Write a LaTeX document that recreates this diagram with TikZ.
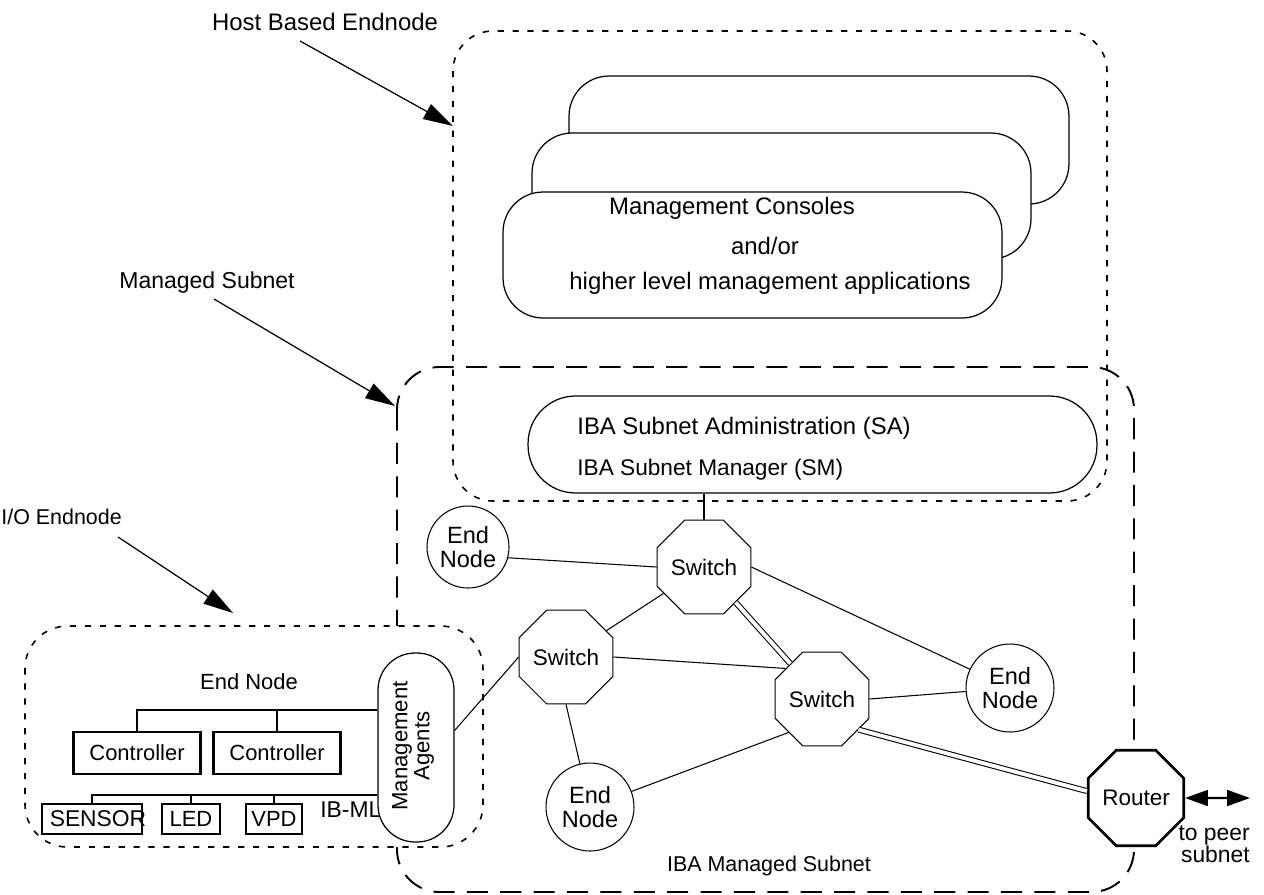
\documentclass[tikz,border=0pt]{standalone}
\usepackage{fontspec}
\setmainfont{Liberation Sans}
\usetikzlibrary{arrows.meta,shapes.geometric,calc}
\begin{document}
\begin{tikzpicture}[x=0.02cm,y=-0.02cm,
  lbl/.style={inner sep=0pt, font=\fontsize{13.6}{16}\selectfont},
  shortdash/.style={dash pattern=on 3.5pt off 5pt, line width=0.9pt},
  longdash/.style={dash pattern=on 12pt off 7pt, line width=1.1pt},
  console/.style={draw, fill=white, rounded corners=0.8cm, line width=0.7pt, inner sep=0pt},
  oct/.style={draw, fill=white, regular polygon, regular polygon sides=8, minimum size=1.73cm, inner sep=0pt, line width=0.6pt, font=\fontsize{12.8}{14}\selectfont},
  endn/.style={draw, fill=white, circle, inner sep=0pt, align=center, line width=0.6pt, font=\fontsize{13.4}{14}\selectfont},
  hwbox/.style={draw, fill=white, line width=1.2pt, inner sep=0pt, font=\fontsize{12.5}{14}\selectfont},
  tree/.style={line width=1.2pt},
  link/.style={line width=0.6pt},
  dlink/.style={double, double distance=2.2pt, line width=0.6pt},
  pointer/.style={line width=0.7pt, -{Triangle[length=17pt,width=9.5pt]}},
  peerarrow/.style={line width=1.2pt, {Triangle[length=13pt,width=9pt]}-{Triangle[length=13pt,width=9pt]}},
]
\useasboundingbox (0,0) rectangle (1264,894);

% big grouping boxes
\draw[shortdash, rounded corners=0.8cm] (453,31) rectangle (1107,501);
\draw[longdash, rounded corners=0.85cm] (397,367) rectangle (1134,892);

% management consoles stack
\node[console, minimum width=10cm, minimum height=2.56cm] (con3) at (819,140) {};
\node[console, minimum width=9.98cm, minimum height=2.52cm] (con2) at (781.5,196) {};
\node[console, minimum width=9.98cm, minimum height=2.52cm] (con1) at (752.5,255) {};
\node[lbl] (mc1) at (732,208) {Management Consoles};
\node[lbl] (mc2) at (765,246) {and/or};
\node[lbl] (mc3) at (770,283) {higher level management applications};

% SA / SM pill
\node[draw, fill=white, rounded corners=0.95cm, minimum width=11.38cm, minimum height=1.94cm, line width=0.7pt] (sa) at (812.5,444.5) {};
\node[lbl, anchor=west] (satxt) at (577,428) {IBA Subnet Administration (SA)};
\node[lbl, anchor=west, font=\fontsize{12.9}{15}\selectfont] (smtxt) at (577,470) {IBA Subnet Manager (SM)};

% I/O endnode box
\draw[shortdash, fill=white, rounded corners=0.85cm] (25,626) rectangle (483,847);

\node[lbl, font=\fontsize{12.5}{14}\selectfont] (ioen) at (249,682) {End Node};
\node[hwbox, minimum width=2.54cm, minimum height=0.84cm] (ctl1) at (137,753) {Controller};
\node[hwbox, minimum width=2.54cm, minimum height=0.84cm] (ctl2) at (277,753) {Controller};
\node[hwbox, minimum width=2.0cm, minimum height=0.6cm] (sensor) at (92,819) {};
\node[lbl, font=\fontsize{13}{14}\selectfont] (sensortxt) at (98,819) {SENSOR};
\node[hwbox, minimum width=1.16cm, minimum height=0.6cm] (led) at (191,819) {LED};
\node[hwbox, minimum width=1.12cm, minimum height=0.6cm] (vpd) at (274,819) {VPD};
\node[lbl, anchor=west, font=\fontsize{13}{14}\selectfont] (ibml) at (320,810) {IB-ML};

\node[draw, fill=white, rounded corners=0.74cm, minimum width=1.52cm, minimum height=3.78cm, line width=0.7pt] (ma) at (416,747.5) {};
\node[rotate=90, align=center, inner sep=0pt, font=\fontsize{12.6}{12.5}\selectfont] (matxt) at (413,746) {Management\\Agents};

\coordinate (t1) at (0,710);
\coordinate (t2) at (0,795);
\draw[tree] (ma.west |- t1) -- (ctl1.north |- t1) -- (ctl1.north);
\draw[tree] (ctl2.north |- t1) -- (ctl2.north);
\draw[tree] (ma.west |- t2) -- (sensor.north |- t2) -- (sensor.north);
\draw[tree] (led.north |- t2) -- (led.north);
\draw[tree] (vpd.north |- t2) -- (vpd.north);

% network nodes
\node[oct] (sw1) at (704,567) {Switch};
\node[oct] (sw2) at (566,657) {Switch};
\node[oct] (sw3) at (822,699) {Switch};
\node[oct, line width=1.5pt, minimum size=1.75cm] (router) at (1136,798) {Router};
\node[endn, minimum size=1.64cm] (en1) at (468,547) {End\\Node};
\node[endn, minimum size=1.76cm] (en2) at (1010,688) {End\\Node};
\node[endn, minimum size=1.76cm] (en3) at (590,807) {End\\Node};

% links
\draw[line width=1.2pt] (sw1.north |- sa.south) -- (sw1.north);
\draw[link] (en1.-15) -- (sw1.west);
\draw[link] (sw1.east) -- (en2);
\draw[link] (sw1) -- (sw2);
\draw[dlink] (sw1) -- (sw3);
\draw[link] (sw2.east) -- (sw3.140);
\draw[link] (sw2.south) -- (en3);
\draw[link] (sw2.west) -- ($(ma.east)+(0,-17)$);
\draw[link] (sw3.east) -- (en2);
\draw[link] (sw3.225) -- (en3);
\draw[dlink] (sw3.320) -- (router.172);

\coordinate (peer) at (1250,798);
\draw[peerarrow] (router.east) -- (peer);
\node[lbl, anchor=north east, align=right, font=\fontsize{13}{13}\selectfont] (peertxt) at (1250,825) {to peer\\subnet};

% labels with pointers
\node[lbl] (hbl) at (325,22) {Host Based Endnode};
\node[lbl, font=\fontsize{13.1}{15}\selectfont] (msl) at (207,283) {Managed Subnet};
\node[lbl, anchor=west, font=\fontsize{12.2}{14}\selectfont] (iol) at (1,517) {I/O Endnode};
\node[lbl, font=\fontsize{12.2}{14}\selectfont] (imsl) at (769,866) {IBA Managed Subnet};

\coordinate (hbtail) at (300,41);
\coordinate (hbtip) at (453,126);
\coordinate (mstail) at (214,299);
\coordinate (mstip) at (395,406);
\coordinate (iotail) at (118,537);
\coordinate (iotip) at (233,613);
\draw[pointer] (hbtail) -- (hbtip);
\draw[pointer] (mstail) -- (mstip);
\draw[pointer] (iotail) -- (iotip);
\end{tikzpicture}
\end{document}
